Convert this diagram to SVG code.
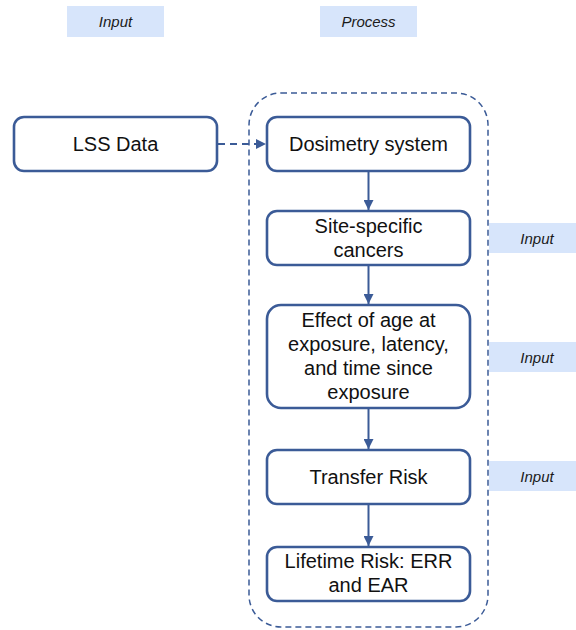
<svg xmlns="http://www.w3.org/2000/svg" width="576" height="630" viewBox="0 0 576 630">
  <style>
    .tag { fill: #d7e5fb; }
    .tagtext { font-family: "Liberation Sans", Arial, sans-serif; font-style: italic; font-size: 15px; fill: #1a1a1a; text-anchor: middle; }
    .box { fill: #ffffff; stroke: #3b5b97; stroke-width: 2.6; }
    .label { font-family: "Liberation Sans", Arial, sans-serif; font-size: 20px; fill: #111111; text-anchor: middle; }
    .flow { stroke: #3b5b97; stroke-width: 2; fill: none; }
    .dash { stroke: #3b5b97; stroke-width: 2; fill: none; stroke-dasharray: 7 5; }
    .group { stroke: #3b5b97; stroke-width: 1.5; fill: none; stroke-dasharray: 6 4; }
  </style>
  <defs>
    <marker id="head" viewBox="0 0 10 10" refX="10" refY="5" markerWidth="10" markerHeight="10" markerUnits="userSpaceOnUse" orient="auto">
      <path d="M0,0 L10,5 L0,10 z" fill="#3b5b97"/>
    </marker>
  </defs>

  <!-- column headings -->
  <g id="heading-input">
    <rect class="tag" x="67" y="6" width="97" height="31"/>
    <text class="tagtext" x="115.5" y="27">Input</text>
  </g>
  <g id="heading-process">
    <rect class="tag" x="320" y="6" width="97" height="31"/>
    <text class="tagtext" x="368.5" y="27">Process</text>
  </g>

  <!-- process container -->
  <g id="process-group">
    <rect class="group" x="249" y="93" width="239" height="534" rx="32"/>
  </g>

  <!-- side inputs -->
  <g id="input-cancers">
    <rect class="tag" x="489" y="223" width="100" height="30"/>
    <text class="tagtext" x="537" y="243.5">Input</text>
  </g>
  <g id="input-effect">
    <rect class="tag" x="489" y="342" width="100" height="30"/>
    <text class="tagtext" x="537" y="362.5">Input</text>
  </g>
  <g id="input-transfer">
    <rect class="tag" x="489" y="461" width="100" height="30"/>
    <text class="tagtext" x="537" y="481.5">Input</text>
  </g>

  <!-- nodes -->
  <g id="lss-data">
    <rect class="box" x="14" y="117" width="203" height="54" rx="10"/>
    <text class="label" x="115.5" y="151">LSS Data</text>
  </g>
  <g id="dosimetry">
    <rect class="box" x="267" y="117" width="203" height="54" rx="10"/>
    <text class="label" x="368.5" y="151">Dosimetry system</text>
  </g>
  <g id="site-specific">
    <rect class="box" x="267" y="211" width="203" height="54" rx="10"/>
    <text class="label" x="368.5" y="233">Site-specific</text>
    <text class="label" x="368.5" y="257">cancers</text>
  </g>
  <g id="age-effect">
    <rect class="box" x="267" y="305" width="203" height="103" rx="14"/>
    <text class="label" x="368.5" y="327">Effect of age at</text>
    <text class="label" x="368.5" y="351">exposure, latency,</text>
    <text class="label" x="368.5" y="375">and time since</text>
    <text class="label" x="368.5" y="399">exposure</text>
  </g>
  <g id="transfer-risk">
    <rect class="box" x="267" y="450" width="203" height="54" rx="10"/>
    <text class="label" x="368.5" y="484">Transfer Risk</text>
  </g>
  <g id="lifetime-risk">
    <rect class="box" x="267" y="547" width="203" height="54" rx="10"/>
    <text class="label" x="368.5" y="568">Lifetime Risk: ERR</text>
    <text class="label" x="368.5" y="592">and EAR</text>
  </g>

  <!-- connectors -->
  <g id="connectors">
    <line class="dash" x1="218" y1="144" x2="266" y2="144" marker-end="url(#head)"/>
    <line class="flow" x1="368.5" y1="172" x2="368.5" y2="210" marker-end="url(#head)"/>
    <line class="flow" x1="368.5" y1="266" x2="368.5" y2="304" marker-end="url(#head)"/>
    <line class="flow" x1="368.5" y1="409" x2="368.5" y2="449" marker-end="url(#head)"/>
    <line class="flow" x1="368.5" y1="505" x2="368.5" y2="546" marker-end="url(#head)"/>
  </g>
</svg>
